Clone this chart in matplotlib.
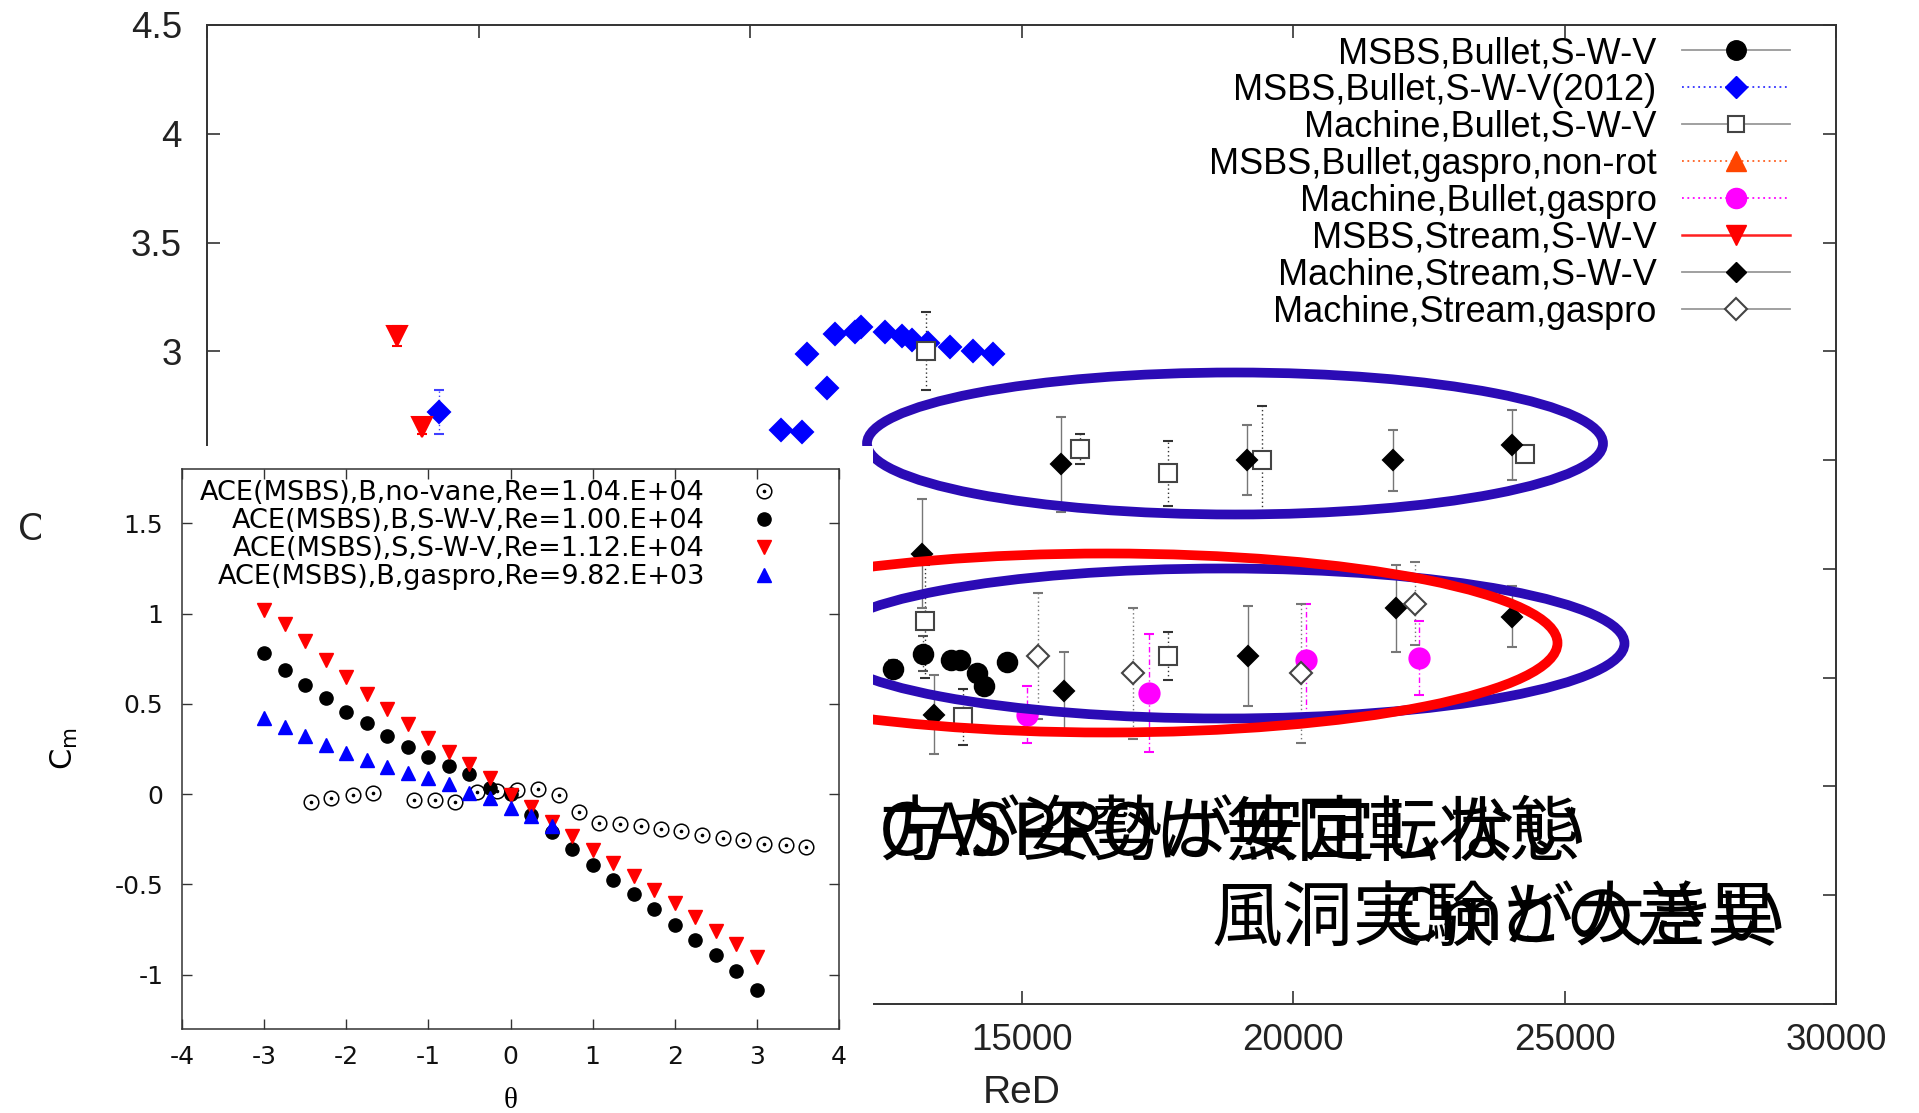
import matplotlib
matplotlib.use('Agg')
import matplotlib.pyplot as plt
from matplotlib.patches import Rectangle, Ellipse
from matplotlib.lines import Line2D
from matplotlib.ticker import FuncFormatter, MultipleLocator
from matplotlib.font_manager import FontProperties

plt.rcParams['font.family'] = ['Liberation Sans', 'DejaVu Sans']

# ---------------- main chart data (ReD vs Cd) ----------------
re_msbs_bullet_swv = [12630, 13180, 13710, 13870, 14180, 14310, 14730]
cd_msbs_bullet_swv = [1.54, 1.61, 1.58, 1.58, 1.52, 1.46, 1.57]
er_msbs_bullet_swv = [0.04, 0.08, 0.04, 0.04, 0.04, 0.04, 0.04]

re_msbs_bullet_2012 = [4270, 10570, 10960, 11420, 11050, 11570, 11930, 12040, 12490,
                       12800, 12980, 13280, 13680, 14110, 14480]
cd_msbs_bullet_2012 = [2.72, 2.64, 2.63, 2.83, 2.99, 3.08, 3.09, 3.11, 3.09,
                       3.07, 3.05, 3.04, 3.02, 3.00, 2.99]
er_msbs_bullet_2012 = [0.10, 0, 0, 0, 0, 0, 0, 0, 0, 0, 0, 0, 0, 0, 0]

re_mach_bullet_swv = [13240, 16070, 17700, 19430, 24270, 13230, 17700, 13920]
cd_mach_bullet_swv = [3.00, 2.55, 2.44, 2.50, 2.53, 1.76, 1.60, 1.32]
er_mach_bullet_swv = [0.18, 0.07, 0.15, 0.25, 0.03, 0.26, 0.11, 0.13]

re_msbs_bullet_gaspro = []
cd_msbs_bullet_gaspro = []
er_msbs_bullet_gaspro = []

re_mach_bullet_gaspro = [15100, 17350, 20240, 22320]
cd_mach_bullet_gaspro = [1.33, 1.43, 1.58, 1.59]
er_mach_bullet_gaspro = [0.13, 0.27, 0.26, 0.17]

re_msbs_stream_swv = [3500, 3960]
cd_msbs_stream_swv = [3.07, 2.65]
er_msbs_stream_swv = [0.045, 0.03]

re_mach_stream_swv = [15720, 19150, 21850, 24030, 13170, 21890, 24030, 19170, 15780, 13390]
cd_mach_stream_swv = [2.48, 2.50, 2.50, 2.57, 2.07, 1.82, 1.78, 1.60, 1.44, 1.33]
er_mach_stream_swv = [0.22, 0.16, 0.14, 0.16, 0.25, 0.20, 0.14, 0.23, 0.18, 0.18]

re_mach_stream_gaspro = [15300, 17050, 20150, 22250]
cd_mach_stream_gaspro = [1.60, 1.52, 1.52, 1.84]
er_mach_stream_gaspro = [0.29, 0.30, 0.32, 0.19]

main_labels = ['MSBS,Bullet,S-W-V', 'MSBS,Bullet,S-W-V(2012)', 'Machine,Bullet,S-W-V',
               'MSBS,Bullet,gaspro,non-rot', 'Machine,Bullet,gaspro', 'MSBS,Stream,S-W-V',
               'Machine,Stream,S-W-V', 'Machine,Stream,gaspro']
main_xticks = [0, 5000, 10000, 15000, 20000, 25000, 30000]

# ---------------- inset data (theta vs Cm) ----------------
theta_novane = [-2.43, -2.18, -1.92, -1.68, -1.17, -0.92, -0.67, -0.41, -0.17, 0.08, 0.33, 0.59,
                0.83, 1.08, 1.33, 1.59, 1.83, 2.08, 2.33, 2.59, 2.83, 3.09, 3.35, 3.60]
cm_novane = [-0.043, -0.024, -0.006, 0.007, -0.033, -0.033, -0.043, 0.013, 0.019, 0.022, 0.026,
             -0.006, -0.098, -0.159, -0.167, -0.178, -0.191, -0.206, -0.228, -0.243, -0.256,
             -0.274, -0.283, -0.293]

theta_swv = [-3.0, -2.75, -2.5, -2.25, -2.0, -1.75, -1.5, -1.25, -1.0, -0.75, -0.5, -0.25, 0.0,
             0.25, 0.5, 0.75, 1.0, 1.25, 1.5, 1.75, 2.0, 2.25, 2.5, 2.75, 3.0]
cm_bullet_swv = [0.78, 0.69, 0.605, 0.53, 0.457, 0.393, 0.324, 0.263, 0.207, 0.156, 0.109, 0.035,
                 0.0, -0.117, -0.21, -0.305, -0.394, -0.474, -0.552, -0.635, -0.724, -0.806,
                 -0.891, -0.98, -1.085]
cm_stream_swv = [1.02, 0.94, 0.85, 0.74, 0.65, 0.555, 0.47, 0.39, 0.31, 0.235, 0.165, 0.09,
                 -0.005, -0.07, -0.155, -0.23, -0.31, -0.38, -0.455, -0.53, -0.60, -0.68,
                 -0.755, -0.83, -0.90]

theta_gaspro = [-3.0, -2.75, -2.5, -2.25, -2.0, -1.75, -1.5, -1.25, -1.0, -0.75, -0.5, -0.25,
                0.0, 0.25, 0.5]
cm_gaspro = [0.42, 0.372, 0.322, 0.272, 0.23, 0.189, 0.152, 0.119, 0.087, 0.054, 0.007, -0.024,
             -0.074, -0.122, -0.176]

inset_labels = ['ACE(MSBS),B,no-vane,Re=1.04.E+04', 'ACE(MSBS),B,S-W-V,Re=1.00.E+04',
                'ACE(MSBS),S,S-W-V,Re=1.12.E+04', 'ACE(MSBS),B,gaspro,Re=9.82.E+03']
inset_xticks = [-4, -3, -2, -1, 0, 1, 2, 3, 4]
inset_yticks = [-1, -0.5, 0, 0.5, 1, 1.5]

note_line1a = 'GASPROは無回転状態'
note_line1b = '方が姿勢が安定しない'
note_line2a = '風洞実験との差異'
note_line2b = 'Cmが大きい'

# ---------------- figure ----------------
W, H = 1919, 1113
fig = plt.figure(figsize=(W / 100, H / 100), dpi=100)
fig.patch.set_facecolor('white')


def fx(px):
    return px / W


def fy(py):
    return 1 - py / H


fmt = FuncFormatter(lambda v, p: f'{v:g}')

ax = fig.add_axes([fx(207), fy(1004), fx(1836) - fx(207), fy(25) - fy(1004)])
ax.set_xlim(0, 30000)
ax.set_ylim(0, 4.5)
ax.set_xticks(main_xticks)
ax.yaxis.set_major_locator(MultipleLocator(0.5))
ax.yaxis.set_major_formatter(fmt)
ax.tick_params(direction='in', length=9.5, width=1.2, top=True, right=True,
               labelsize=26.5, colors='#333333', labelcolor='#222222')
ax.tick_params(axis='x', pad=14)
ax.tick_params(axis='y', pad=18)
for s in ax.spines.values():
    s.set_color('#333333')
    s.set_linewidth(1.4)
ax.set_xlabel('ReD', fontsize=28, color='#222222')
ax.xaxis.set_label_coords(0.5, -0.073)


def eb(x, y, e, marker, ms, mfc, mec, ecolor, els, mew=1.5):
    if len(x) == 0:
        return
    c = ax.errorbar(x, y, yerr=e, fmt=marker, ms=ms, mfc=mfc, mec=mec, mew=mew,
                    ecolor=ecolor, elinewidth=1.0, capsize=3.5, capthick=1.0, zorder=3)
    c[2][0].set_linestyle(els)


dot = (0, (1, 2))
eb(re_msbs_bullet_swv, cd_msbs_bullet_swv, er_msbs_bullet_swv, 'o', 14, 'black', 'black', '#555555', dot)
eb(re_msbs_bullet_2012, cd_msbs_bullet_2012, er_msbs_bullet_2012, 'D', 11.5, '#0000ff', '#0000ff', '#4040ff', dot)
eb(re_mach_bullet_swv, cd_mach_bullet_swv, er_mach_bullet_swv, 's', 13, 'white', '#444444', '#333333', dot)
eb(re_msbs_bullet_gaspro, cd_msbs_bullet_gaspro, er_msbs_bullet_gaspro, '^', 13, '#ff4500', '#ff4500', '#ff4500', dot)
eb(re_mach_bullet_gaspro, cd_mach_bullet_gaspro, er_mach_bullet_gaspro, 'o', 14.5, '#ff00ff', '#ff00ff', '#ff00ff', (0, (4, 2, 1, 2)))
eb(re_msbs_stream_swv, cd_msbs_stream_swv, er_msbs_stream_swv, 'v', 14, '#ff0000', '#ff0000', '#ff0000', '-')
eb(re_mach_stream_swv, cd_mach_stream_swv, er_mach_stream_swv, 'D', 10.5, 'black', 'black', '#777777', '-')
eb(re_mach_stream_gaspro, cd_mach_stream_gaspro, er_mach_stream_gaspro, 'D', 11.5, 'white', '#444444', '#777777', dot)

handles = [
    Line2D([], [], color='#999999', lw=1.3, ls='-', marker='o', ms=14, mfc='black', mec='black'),
    Line2D([], [], color='#3030ff', lw=1.3, ls=dot, marker='D', ms=11.5, mfc='#0000ff', mec='#0000ff'),
    Line2D([], [], color='#999999', lw=1.3, ls='-', marker='s', ms=12, mfc='white', mec='#444444', mew=1.5),
    Line2D([], [], color='#ff6020', lw=1.3, ls=dot, marker='^', ms=14, mfc='#ff4500', mec='#ff4500'),
    Line2D([], [], color='#ff00ff', lw=1.3, ls=dot, marker='o', ms=14.5, mfc='#ff00ff', mec='#ff00ff'),
    Line2D([], [], color='#ff2020', lw=1.8, ls='-', marker='v', ms=14, mfc='#ff0000', mec='#ff0000'),
    Line2D([], [], color='#999999', lw=1.3, ls='-', marker='D', ms=10.5, mfc='black', mec='black'),
    Line2D([], [], color='#999999', lw=1.3, ls='-', marker='D', ms=11.5, mfc='white', mec='#444444', mew=1.5),
]
ax.legend(handles, main_labels, loc='upper right', bbox_to_anchor=(fx(1790), fy(36)),
          bbox_transform=fig.transFigure, frameon=False, markerfirst=False,
          handlelength=3.0, handletextpad=0.69, labelspacing=0.055, borderpad=0,
          borderaxespad=0, prop=FontProperties(family='Liberation Sans', size=26))

# main y label (partly hidden by the pasted inset)
fig.text(fx(18), fy(540), 'Cd', fontsize=28, color='#222222', va='baseline', ha='left', zorder=1)

# annotation ellipses
blue = '#2b0bb5'
fig.add_artist(Ellipse((fx(1235), fy(443.5)), 736 / W, 142 / H, transform=fig.transFigure,
                       fill=False, ec=blue, lw=7, zorder=1.5))
fig.add_artist(Ellipse((fx(1224), fy(643.5)), 801 / W, 150 / H, transform=fig.transFigure,
                       fill=False, ec=blue, lw=7, zorder=1.6))
fig.add_artist(Ellipse((fx(1107), fy(643)), 901 / W, 179 / H, transform=fig.transFigure,
                       fill=False, ec='#ff0000', lw=7, zorder=1.7))

# white panel of the pasted inset
fig.add_artist(Rectangle((fx(41), 0), fx(873) - fx(41), fy(446), transform=fig.transFigure,
                         facecolor='white', edgecolor='none', zorder=2))

# ---------------- inset ----------------
ax2 = fig.add_axes([fx(182), fy(1029), fx(839) - fx(182), fy(469) - fy(1029)], zorder=3)
ax2.set_facecolor('white')
ax2.set_xlim(-4, 4)
ax2.set_ylim(-1.3, 1.8)
ax2.set_xticks(inset_xticks)
ax2.set_yticks(inset_yticks)
ax2.xaxis.set_major_formatter(fmt)
ax2.yaxis.set_major_formatter(fmt)
ax2.tick_params(direction='in', length=7, width=1.0, top=True, right=True, labelsize=18,
                colors='#333333', labelcolor='#111111', labelfontfamily='DejaVu Sans')
ax2.tick_params(axis='x', pad=11.5)
ax2.tick_params(axis='y', pad=13.5)
for s in ax2.spines.values():
    s.set_color('#333333')
    s.set_linewidth(1.1)

ax2.plot(theta_novane, cm_novane, ls='none', marker='o', ms=10.5, mfc='white', mec='black', mew=1.1)
ax2.plot(theta_novane, cm_novane, ls='none', marker='o', ms=1.6, mfc='black', mec='black')
ax2.plot(theta_swv, cm_bullet_swv, ls='none', marker='o', ms=9.5, mfc='black', mec='black')
ax2.plot(theta_swv, cm_stream_swv, ls='none', marker='v', ms=10, mfc='#ff0000', mec='#ff0000')
ax2.plot(theta_gaspro, cm_gaspro, ls='none', marker='^', ms=10, mfc='#0000ff', mec='#0000ff')

ih = [
    (Line2D([], [], ls='none', marker='o', ms=10.5, mfc='white', mec='black', mew=1.1),
     Line2D([], [], ls='none', marker='o', ms=1.6, mfc='black', mec='black')),
    Line2D([], [], ls='none', marker='o', ms=9.5, mfc='black', mec='black'),
    Line2D([], [], ls='none', marker='v', ms=10, mfc='#ff0000', mec='#ff0000'),
    Line2D([], [], ls='none', marker='^', ms=10, mfc='#0000ff', mec='#0000ff'),
]
ax2.legend(ih, inset_labels, loc='upper right', bbox_to_anchor=(fx(791), fy(480)),
           bbox_transform=fig.transFigure, frameon=False, markerfirst=False,
           handlelength=2.0, handletextpad=1.18, labelspacing=0.08, borderpad=0,
           borderaxespad=0, prop=FontProperties(family='DejaVu Sans', size=19.5))

ax2.set_xlabel('θ', fontsize=21, family='Liberation Serif')
ax2.xaxis.set_label_coords(0.5, -0.105)
ax2.set_ylabel('C$_\\mathrm{m}$', fontsize=22, family='DejaVu Sans')
ax2.yaxis.set_label_coords(-0.155, 0.5)

# ---------------- overlapping Japanese notes ----------------
jp = ['Noto Sans CJK JP', 'DejaVu Sans']
for txt, x, y in [(note_line1a, 879, 855), (note_line1b, 879, 855),
                  (note_line2a, 1212, 940), (note_line2b, 1394, 940)]:
    fig.text(fx(x), fy(y), txt, fontsize=51, family=jp, color='black',
             ha='left', va='baseline', zorder=10)

fig.savefig('out.png', dpi=100, facecolor='white')
